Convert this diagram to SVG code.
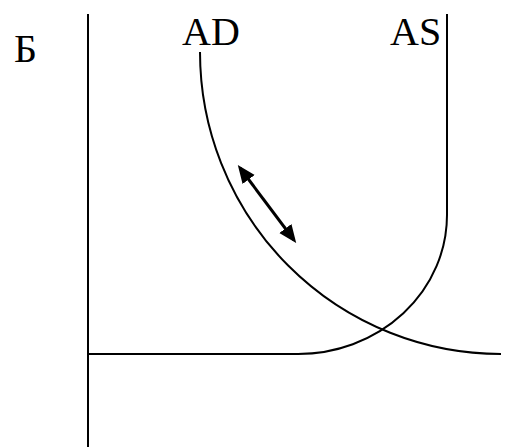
<svg xmlns="http://www.w3.org/2000/svg" width="515" height="447" viewBox="0 0 515 447">
<style>
.ln{fill:none;stroke:#000;stroke-width:2}
.arr{fill:none;stroke:#000;stroke-width:3}
.t{font-family:"Liberation Serif",serif;font-size:40px;fill:#000}
</style>
<defs>
<marker id="ah" viewBox="0 0 10 10" refX="8" refY="5" markerWidth="6" markerHeight="6" orient="auto-start-reverse">
<path d="M0,0.8 L10,5 L0,9.2 z" fill="#000"/>
</marker>
</defs>
<rect width="515" height="447" fill="#fff"/>
<g id="axes">
<line class="ln" x1="88" y1="14" x2="88" y2="447"/>
</g>
<g id="AS">
<path class="ln" d="M447,14 L447,215 A149,139 0 0 1 298,354 L88,354"/>
</g>
<g id="AD">
<path class="ln" d="M200,52 A301,302 0 0 0 501,354"/>
</g>
<g id="labels">
<text class="t" x="14" y="62">Б</text>
<text class="t" x="182" y="45">AD</text>
<text class="t" x="390" y="45">AS</text>
</g>
<g id="connectors">
<line class="arr" x1="240" y1="168" x2="294" y2="240" marker-start="url(#ah)" marker-end="url(#ah)"/>
</g>
</svg>
